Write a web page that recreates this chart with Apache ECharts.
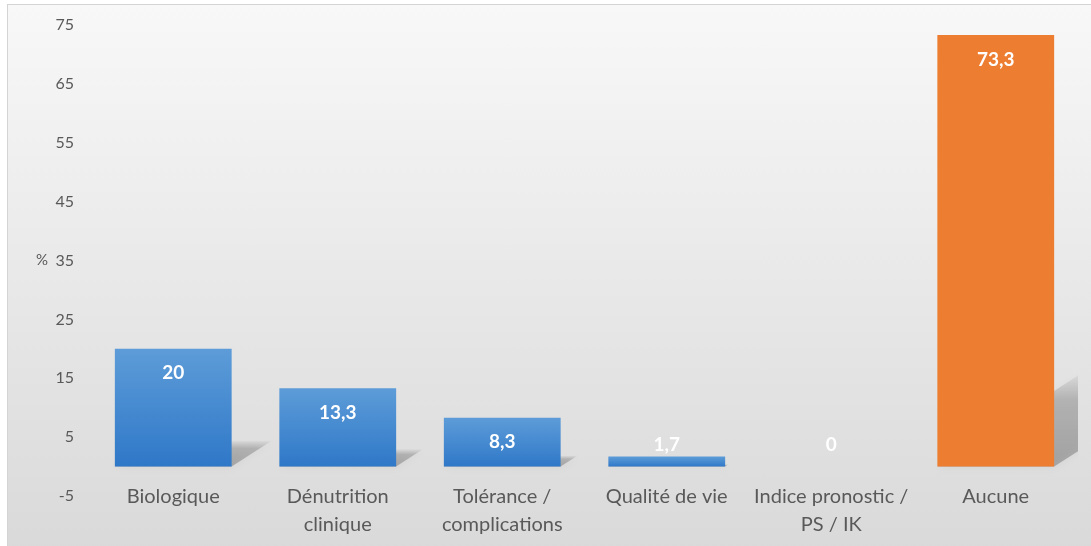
<!DOCTYPE html>
<html>
<head>
<meta charset="utf-8">
<script src="https://cdn.jsdelivr.net/npm/echarts@6/dist/echarts.min.js"></script>
<style>
	html, body { margin: 0; padding: 0; background: #fff; }
	#frame {
		position: absolute; left: 7px; top: 4px; width: 1090px; height: 550px;
		border-left: 1px solid #d4d4d4; border-top: 1px solid #d4d4d4;
		background: linear-gradient(to bottom, #f8f8f8 0%, #d9d9d9 100%);
	}
	#chart { position: absolute; left: 0; top: 0; width: 1091px; height: 546px; }
</style>
</head>
<body>
<div id="frame"></div>
<div id="chart"></div>
<script>
	// categories and values (%)
	const categories = ['Biologique', 'Dénutrition\nclinique', 'Tolérance /\ncomplications', 'Qualité de vie', 'Indice pronostic /\nPS / IK', 'Aucune']
	const values = [20, 13.3, 8.3, 1.7, 0, 73.3]
	const highlightIndex = 5

	const blue = new echarts.graphic.LinearGradient(0, 0, 0, 1, [
		{ offset: 0, color: '#5d9cd8' },
		{ offset: 1, color: '#2f78c8' }
	])
	const orange = '#ed7d31'

	// bars data, short bars get their label pushed above
	const barData = values.map((v, i) => ({
		value: v,
		itemStyle: { color: i === highlightIndex ? orange : blue },
		label: v < 4 ? { position: 'insideBottom', distance: 12 } : { position: 'insideTop', distance: 15 }
	}))

	// perspective shadow behind each bar
	const shadowItem = (params, api) => {
		const idx = api.value(0)
		const val = api.value(1)
		if (!val) return
		const base = api.coord([idx, 0])
		const top = api.coord([idx, val])
		const w = api.size([1, 0])[0] * 0.71
		const h = base[1] - top[1]
		const x0 = base[0] - w / 2
		const x1 = base[0] + w / 2
		const dx = h * 0.34
		const dy = h * 0.22
		return {
			type: 'polygon',
			shape: { points: [[x0, base[1]], [x1, base[1]], [x1 + dx, base[1] - dy], [x0 + dx, base[1] - dy]] },
			style: {
				fill: new echarts.graphic.LinearGradient(0, 1, 0, 0, [
					{ offset: 0, color: 'rgba(0,0,0,0.24)' },
					{ offset: 0.7, color: 'rgba(0,0,0,0.18)' },
					{ offset: 1, color: 'rgba(0,0,0,0.02)' }
				]),
				shadowBlur: 8,
				shadowColor: 'rgba(0,0,0,0.2)'
			}
		}
	}

	const chart = echarts.init(document.getElementById('chart'))
	chart.setOption({
		animation: false,
		grid: { left: 91, right: 13, top: 25, bottom: 50 },
		xAxis: {
			type: 'category',
			data: categories,
			axisLine: { show: false },
			axisTick: { show: false },
			axisLabel: { color: '#595959', fontFamily: 'Lato', fontSize: 20, lineHeight: 28, margin: -13, interval: 0 }
		},
		yAxis: {
			type: 'value',
			min: -5,
			max: 75,
			interval: 10,
			name: '%',
			nameLocation: 'middle',
			nameRotate: 0,
			nameGap: 43,
			nameTextStyle: { color: '#595959', fontFamily: 'Lato', fontSize: 15 },
			splitLine: { show: false },
			axisLine: { show: false },
			axisTick: { show: false },
			axisLabel: { color: '#595959', fontFamily: 'Lato', fontSize: 16, margin: 17 }
		},
		series: [
			{
				type: 'custom',
				renderItem: shadowItem,
				data: values.map((v, i) => [i, v]),
				clip: true,
				silent: true,
				z: 1
			},
			{
				type: 'bar',
				data: barData,
				barWidth: '71%',
				z: 2,
				label: {
					show: true,
					color: '#fff',
					fontFamily: 'Lato',
					fontWeight: 'bold',
					fontSize: 19,
					formatter: (p) => String(p.value).replace('.', ',')
				}
			}
		]
	})
</script>
</body>
</html>
